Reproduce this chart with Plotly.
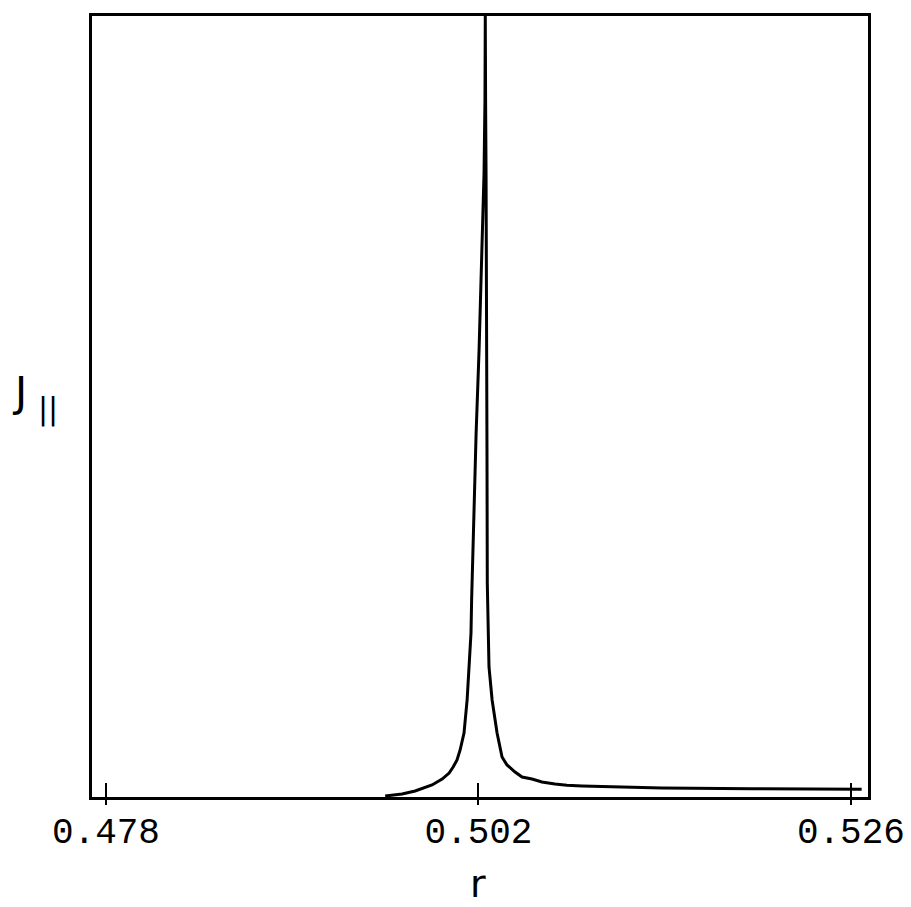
import plotly.graph_objects as go

# Data (r, J_parallel in arbitrary units, peak = 100)
r_vals = [0.49599, 0.49708, 0.49792, 0.49901, 0.49966, 0.50011, 0.50037, 0.50062,
          0.50082, 0.50107, 0.50127, 0.50140, 0.50152, 0.50156, 0.50165, 0.50172,
          0.50185, 0.50204, 0.50217, 0.50236, 0.50242, 0.50244,
          0.50246, 0.50249, 0.50252, 0.50254, 0.50255, 0.50257, 0.50262, 0.50268,
          0.50288, 0.50320, 0.50352, 0.50384, 0.50436, 0.50481, 0.50545, 0.50609,
          0.50693, 0.50770, 0.50867, 0.51079, 0.51382, 0.51961, 0.52669]
j_vals = [0.13, 0.38, 0.77, 1.54, 2.30, 3.07, 3.84, 4.74,
          6.02, 8.19, 12.42, 16.65, 21.0, 25.22, 32.9, 38.03,
          46.61, 57.23, 67.86, 79.9, 89.24, 100.0,
          89.24, 79.9, 67.86, 57.23, 44.43, 27.4, 21.0, 16.65,
          12.42, 8.19, 5.12, 4.10, 3.2, 2.56, 2.3, 1.92,
          1.66, 1.50, 1.41, 1.28, 1.15, 1.05, 1.0]

tick_vals = [0.478, 0.502, 0.526]
tick_text = ["0.478", "0.502", "0.526"]
x_range = [0.4771, 0.5271]
y_range = [0, 100]

fig = go.Figure()
fig.add_trace(go.Scatter(x=r_vals, y=j_vals, mode="lines",
                         line=dict(color="black", width=3),
                         showlegend=False, hoverinfo="skip"))
fig.add_trace(go.Scatter(x=[x_range[0]], y=[y_range[0]], xaxis="x2", mode="markers",
                         marker=dict(opacity=0), showlegend=False, hoverinfo="skip"))

fig.update_layout(
    width=903, height=899,
    margin=dict(l=84, r=43, t=8, b=110, autoexpand=False),
    paper_bgcolor="white", plot_bgcolor="white",
    xaxis=dict(range=x_range, tickvals=tick_vals, ticktext=tick_text,
               ticks="inside", ticklen=14, tickwidth=2, tickcolor="black",
               showline=True, mirror=True, linecolor="black", linewidth=3,
               showgrid=False, zeroline=False, automargin=False,
               ticklabelstandoff=0,
               tickfont=dict(family="Liberation Mono", size=36, color="black")),
    xaxis2=dict(range=x_range, overlaying="x", anchor="y", side="bottom",
                tickvals=tick_vals, ticks="outside", ticklen=7, tickwidth=2,
                tickcolor="black", showticklabels=False, showline=False,
                showgrid=False, zeroline=False, automargin=False),
    yaxis=dict(range=y_range, showticklabels=False, ticks="",
               showline=True, mirror=True, linecolor="black", linewidth=3,
               showgrid=False, zeroline=False, automargin=False),
    annotations=[
        dict(text="r", x=0.502, xref="x", y=-0.1114, yref="paper",
             xanchor="center", yanchor="middle", showarrow=False,
             font=dict(family="DejaVu Sans", size=38, color="black")),
        dict(text="J", x=-0.094, xref="paper", y=0.519, yref="paper",
             xanchor="center", yanchor="middle", showarrow=False,
             font=dict(family="DejaVu Sans", size=41, color="black")),
        dict(text="||", x=-0.057, xref="paper", y=0.497, yref="paper",
             xanchor="center", yanchor="middle", showarrow=False,
             font=dict(family="DejaVu Sans", size=30, color="black")),
    ],
)

fig.write_html("out.html")
